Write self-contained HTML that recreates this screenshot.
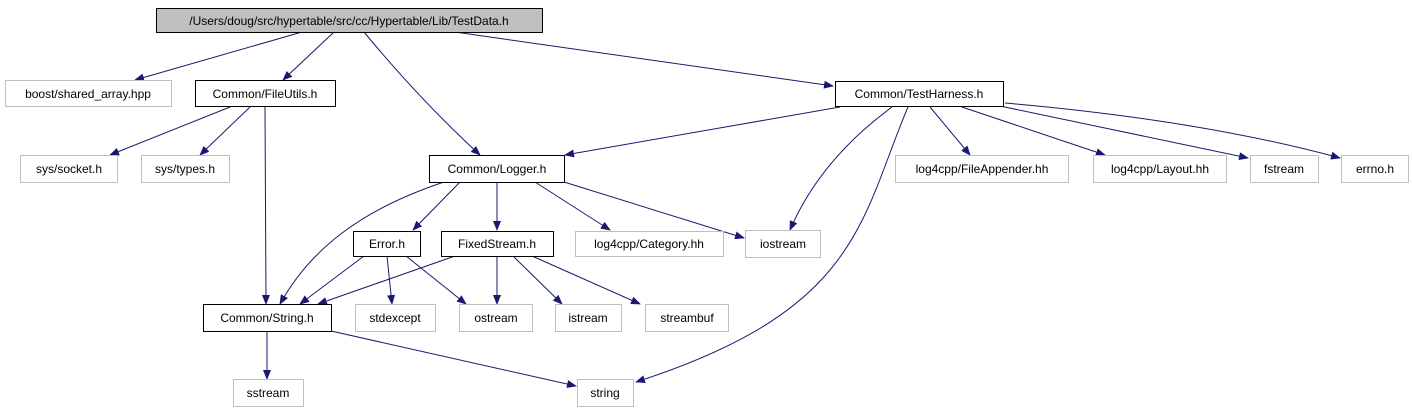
<!DOCTYPE html>
<html><head><meta charset="utf-8"><style>
html,body{margin:0;padding:0;background:#fff;}
svg{display:block}
text{font-family:"Liberation Sans",sans-serif;font-size:12px;fill:#000;}
</style></head><body>
<svg width="1412" height="411" viewBox="0 0 1412 411" xmlns="http://www.w3.org/2000/svg">
<defs><marker id="a" markerWidth="10" markerHeight="8" refX="9" refY="4" orient="auto" markerUnits="userSpaceOnUse"><path d="M0,0 L10,4 L0,8 Z" fill="#191970"/></marker></defs>
<g fill="none" stroke="#191970" stroke-width="1" marker-end="url(#a)">
<path d="M302,32 L135,80"/>
<path d="M334,32 L283,80"/>
<path d="M364,32 Q420,100 480,155"/>
<path d="M455,32 L833,86"/>
<path d="M230,107 L110,155"/>
<path d="M250,107 L200,155"/>
<path d="M265,107 L266,304"/>
<path d="M840,107 L565,155"/>
<path d="M892,107 Q820,160 790,230"/>
<path d="M908,107 C860,220 860,310 636,382"/>
<path d="M930,107 L970,155"/>
<path d="M962,107 L1105,155"/>
<path d="M1000,106 L1248,158"/>
<path d="M1005,103 Q1200,120 1340,158"/>
<path d="M444,182 C360,210 310,250 280,304"/>
<path d="M460,182 L413,230"/>
<path d="M497,182 L497,230"/>
<path d="M535,182 L610,230"/>
<path d="M564,182 L744,238"/>
<path d="M364,256 L300,304"/>
<path d="M387,256 L392,304"/>
<path d="M406,256 L466,304"/>
<path d="M455,256 L318,304"/>
<path d="M497,256 L497,304"/>
<path d="M513,256 L562,304"/>
<path d="M532,256 L640,304"/>
<path d="M267,331 L267,379"/>
<path d="M331,331 L576,386"/>
</g>
<g stroke-width="1">
<rect x="156.5" y="8.5" width="386" height="24" fill="#bfbfbf" stroke="#000"/>
<rect x="5.5" y="80.5" width="166" height="26" fill="#fff" stroke="#bfbfbf"/>
<rect x="195.5" y="80.5" width="140" height="26" fill="#fff" stroke="#000"/>
<rect x="835.5" y="81.5" width="168" height="25" fill="#fff" stroke="#000"/>
<rect x="20.5" y="155.5" width="97" height="27" fill="#fff" stroke="#bfbfbf"/>
<rect x="141.5" y="155.5" width="88" height="27" fill="#fff" stroke="#bfbfbf"/>
<rect x="429.5" y="155.5" width="135" height="27" fill="#fff" stroke="#000"/>
<rect x="895.5" y="155.5" width="173" height="27" fill="#fff" stroke="#bfbfbf"/>
<rect x="1093.5" y="155.5" width="133" height="27" fill="#fff" stroke="#bfbfbf"/>
<rect x="1250.5" y="155.5" width="68" height="27" fill="#fff" stroke="#bfbfbf"/>
<rect x="1341.5" y="155.5" width="67" height="27" fill="#fff" stroke="#bfbfbf"/>
<rect x="353.5" y="231.5" width="67" height="25" fill="#fff" stroke="#000"/>
<rect x="441.5" y="231.5" width="112" height="25" fill="#fff" stroke="#000"/>
<rect x="575.5" y="231.5" width="148" height="25" fill="#fff" stroke="#bfbfbf"/>
<rect x="745.5" y="230.5" width="75" height="27" fill="#fff" stroke="#bfbfbf"/>
<rect x="203.5" y="304.5" width="128" height="27" fill="#fff" stroke="#000"/>
<rect x="355.5" y="304.5" width="80" height="27" fill="#fff" stroke="#bfbfbf"/>
<rect x="459.5" y="304.5" width="73" height="27" fill="#fff" stroke="#bfbfbf"/>
<rect x="555.5" y="304.5" width="66" height="27" fill="#fff" stroke="#bfbfbf"/>
<rect x="645.5" y="304.5" width="83" height="27" fill="#fff" stroke="#bfbfbf"/>
<rect x="233.5" y="379.5" width="70" height="27" fill="#fff" stroke="#bfbfbf"/>
<rect x="577.5" y="379.5" width="56" height="27" fill="#fff" stroke="#bfbfbf"/>
</g>
<g text-anchor="middle">
<text x="349" y="25">/Users/doug/src/hypertable/src/cc/Hypertable/Lib/TestData.h</text>
<text x="88" y="98">boost/shared_array.hpp</text>
<text x="265" y="98">Common/FileUtils.h</text>
<text x="919" y="98">Common/TestHarness.h</text>
<text x="69" y="173">sys/socket.h</text>
<text x="185" y="173">sys/types.h</text>
<text x="497" y="173">Common/Logger.h</text>
<text x="982" y="173">log4cpp/FileAppender.hh</text>
<text x="1160" y="173">log4cpp/Layout.hh</text>
<text x="1284" y="173">fstream</text>
<text x="1375" y="173">errno.h</text>
<text x="387" y="248">Error.h</text>
<text x="497" y="248">FixedStream.h</text>
<text x="649" y="248">log4cpp/Category.hh</text>
<text x="783" y="248">iostream</text>
<text x="267" y="322">Common/String.h</text>
<text x="395" y="322">stdexcept</text>
<text x="496" y="322">ostream</text>
<text x="588" y="322">istream</text>
<text x="687" y="322">streambuf</text>
<text x="268" y="397">sstream</text>
<text x="605" y="397">string</text>
</g>
</svg>
</body></html>
